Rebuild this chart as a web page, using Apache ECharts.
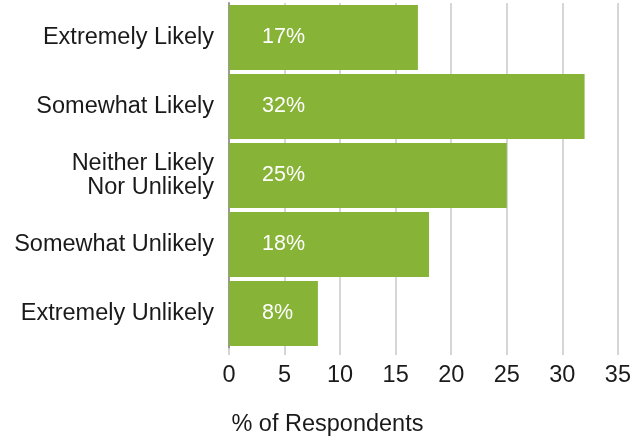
<!DOCTYPE html>
<html><head><meta charset="utf-8">
<script src="https://cdn.jsdelivr.net/npm/echarts@6/dist/echarts.min.js"></script>
<style>html,body{margin:0;padding:0;background:#fff}#c{width:634px;height:442px}</style>
</head><body><div id="c"></div>
<script>
const categories = ["Extremely Likely", "Somewhat Likely", "Neither Likely\nNor Unlikely", "Somewhat Unlikely", "Extremely Unlikely"];
const values = [17, 32, 25, 18, 8];
const xTicks = [0, 5, 10, 15, 20, 25, 30, 35];
const axisTitle = "% of Respondents";

const chart = echarts.init(document.getElementById('c'), null, {renderer: 'canvas'});
const font = '"Liberation Sans", Arial, sans-serif';
chart.setOption({
  animation: false,
  grid: {left: 229, right: 12, top: 3, bottom: 93, containLabel: false},
  xAxis: {
    type: 'value', min: xTicks[0], max: xTicks[xTicks.length - 1], interval: 5,
    axisLine: {show: false},
    axisTick: {show: true, length: 7, lineStyle: {color: '#c8c8c8', width: 1.5}},
    splitLine: {show: true, lineStyle: {color: '#c8c8c8', width: 1.5}},
    axisLabel: {color: '#1a1a1a', fontSize: 23.5, fontFamily: font, margin: 16},
    name: axisTitle, nameLocation: 'middle', nameGap: 77,
    nameTextStyle: {color: '#1a1a1a', fontSize: 23.5, fontFamily: font, align: 'right', verticalAlign: 'middle'}
  },
  yAxis: {
    type: 'category', data: categories, inverse: true,
    axisLine: {show: true, lineStyle: {color: '#999999', width: 2}},
    axisTick: {show: false},
    axisLabel: {color: '#1a1a1a', fontSize: 23.5, fontFamily: font, margin: 15, lineHeight: 24}
  },
  series: [{
    type: 'bar', data: values, barCategoryGap: '6%',
    itemStyle: {color: '#87b337'},
    label: {show: true, position: 'insideLeft', distance: 33, formatter: '{c}%', color: '#ffffff', fontSize: 21.5, fontFamily: font}
  }]
});
</script></body></html>
